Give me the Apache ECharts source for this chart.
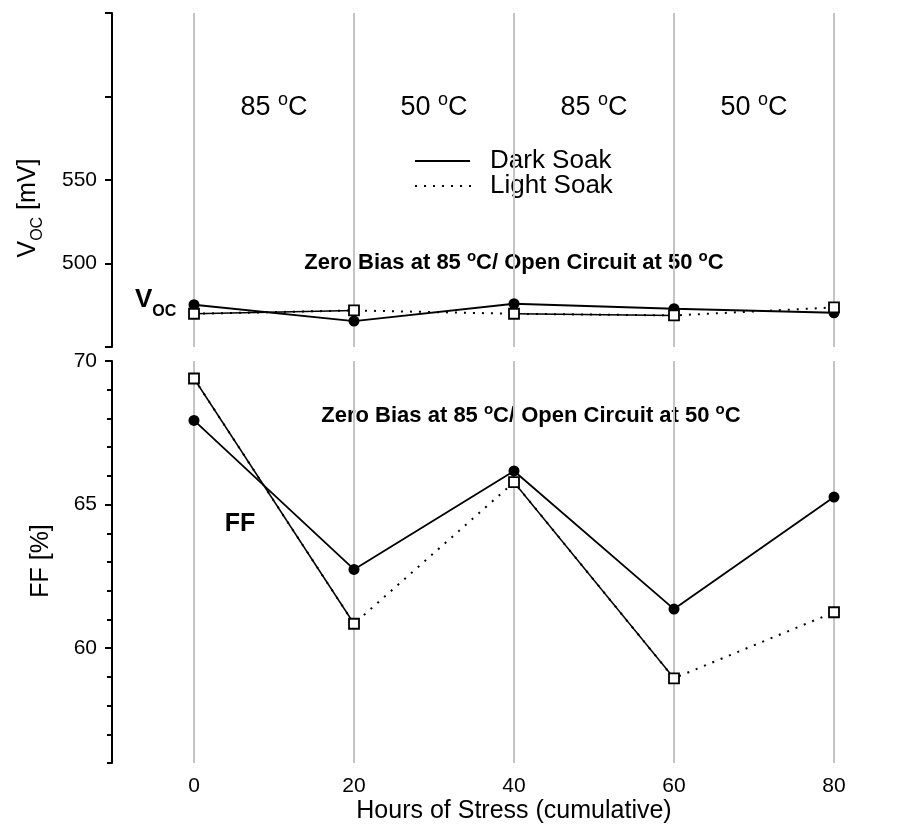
<!DOCTYPE html>
<html><head><meta charset="utf-8">
<script src="https://cdn.jsdelivr.net/npm/echarts@6/dist/echarts.min.js"></script>
<style>html,body{margin:0;padding:0;background:#fff}#c{width:906px;height:824px}</style>
</head><body><div id="c"></div>
<script>
// ---- data ----
const hours = [0, 20, 40, 60, 80];
const vocDark = [475.3, 465.5, 475.9, 472.9, 470.5];
const vocLight = [469.9, 471.9, 469.9, 468.9, 473.7];
const ffDark = [67.93, 62.74, 66.17, 61.36, 65.26];
const ffLight = [69.39, 60.85, 65.78, 58.95, 61.25];
const vocTickLabels = [500, 550];
const ffTickLabels = [60, 65, 70];
const phaseTemps = ['85', '50', '85', '50'];
const seriesNames = ['Dark Soak', 'Light Soak'];

const FONT = "'Liberation Sans', Arial, Helvetica, sans-serif";
const pts = (arr) => hours.map((h, i) => [h, arr[i]]);
const seg = (arr, a, b) => hours.slice(a, b + 1).map((h, i) => [h, arr[a + i]]);

const chart = echarts.init(document.getElementById('c'), null, {renderer: 'canvas'});

const xBase = (gi, showLabels) => ({
  type: 'value', gridIndex: gi, min: 0, max: 80, interval: 20,
  axisLine: {show: false, onZero: false}, axisTick: {show: false},
  axisLabel: {show: showLabels, fontFamily: FONT, fontSize: 21, color: '#000', margin: 13,
    showMinLabel: true, showMaxLabel: true},
  splitLine: {show: true, showMinLine: true, showMaxLine: true, lineStyle: {color: '#c4c4c4', width: 2}}
});

function darkSeries(xi, data) {
  return {type: 'line', name: seriesNames[0], xAxisIndex: xi, yAxisIndex: xi === 0 ? 0 : 1,
    data: data, symbol: 'circle', symbolSize: 11, clip: false, z: 3,
    itemStyle: {color: '#000'}, lineStyle: {color: '#000', width: 1.8}};
}
function lightSeries(xi, data) {
  return {type: 'line', name: seriesNames[1], xAxisIndex: xi, yAxisIndex: xi === 0 ? 0 : 1,
    data: data, symbol: 'rect', symbolSize: 10, clip: false, z: 5,
    itemStyle: {color: '#fff', borderColor: '#000', borderWidth: 1.8},
    lineStyle: {color: '#000', width: 2, type: [2, 7]}};
}
function solidSeg(xi, data) {
  return {type: 'line', xAxisIndex: xi, yAxisIndex: xi === 0 ? 0 : 1,
    data: data, symbol: 'none', clip: false, z: 4,
    lineStyle: {color: '#000', width: 1.5}};
}

const phaseX = [274, 434, 594, 754];
const graphics = [];
phaseTemps.forEach((t, i) => {
  graphics.push({type: 'text', x: phaseX[i], y: 108,
    style: {text: '{n|' + t + ' }{s|o}{n|C}', align: 'center', verticalAlign: 'middle',
      rich: {n: {fontFamily: FONT, fontSize: 27, lineHeight: 34, fill: '#000'},
             s: {fontFamily: FONT, fontSize: 18, lineHeight: 18, verticalAlign: 'top', fill: '#000'}}}});
});
const subRich = {b: {fontFamily: FONT, fontSize: 22, fontWeight: 'bold', lineHeight: 28, fill: '#000'},
                 s: {fontFamily: FONT, fontSize: 15, fontWeight: 'bold', lineHeight: 15, verticalAlign: 'top', fill: '#000'}};
const subText = '{b|Zero Bias at 85 }{s|o}{b|C/ Open Circuit at 50 }{s|o}{b|C}';
graphics.push({type: 'text', x: 514, y: 263, style: {text: subText, rich: subRich, align: 'center', verticalAlign: 'middle'}});
graphics.push({type: 'text', x: 531, y: 416, style: {text: subText, rich: subRich, align: 'center', verticalAlign: 'middle'}});
// legend
graphics.push({type: 'line', shape: {x1: 415, y1: 161, x2: 470, y2: 161}, style: {stroke: '#000', lineWidth: 2}});
graphics.push({type: 'line', shape: {x1: 415, y1: 186, x2: 472, y2: 186}, style: {stroke: '#000', lineWidth: 2, lineDash: [2, 7]}});
graphics.push({type: 'text', x: 490, y: 161, style: {text: seriesNames[0], fontFamily: FONT, fontSize: 26, fill: '#000', align: 'left', verticalAlign: 'middle'}});
graphics.push({type: 'text', x: 490, y: 186, style: {text: seriesNames[1], fontFamily: FONT, fontSize: 26, fill: '#000', align: 'left', verticalAlign: 'middle'}});
// panel labels
graphics.push({type: 'text', x: 135, y: 300, style: {text: '{v|V}{s|OC}', align: 'left', verticalAlign: 'middle',
  rich: {v: {fontFamily: FONT, fontSize: 26, fontWeight: 'bold', lineHeight: 40, fill: '#000'},
         s: {fontFamily: FONT, fontSize: 16, fontWeight: 'bold', lineHeight: 16, verticalAlign: 'bottom', fill: '#000'}}}});
graphics.push({type: 'text', x: 240, y: 524, style: {text: 'FF', fontFamily: FONT, fontSize: 25, fontWeight: 'bold', fill: '#000', align: 'center', verticalAlign: 'middle'}});
// axis names
graphics.push({type: 'text', x: 28, y: 208, rotation: Math.PI / 2, style: {text: '{a|V}{b|OC}{a| [mV]}', align: 'center', verticalAlign: 'middle',
  rich: {a: {fontFamily: FONT, fontSize: 25, lineHeight: 36, fill: '#000'},
         b: {fontFamily: FONT, fontSize: 16, lineHeight: 16, verticalAlign: 'bottom', fill: '#000'}}}});
graphics.push({type: 'text', x: 41, y: 561, rotation: Math.PI / 2, style: {text: 'FF [%]', fontFamily: FONT, fontSize: 25, fill: '#000', align: 'center', verticalAlign: 'middle'}});
graphics.push({type: 'text', x: 514, y: 811, style: {text: 'Hours of Stress (cumulative)', fontFamily: FONT, fontSize: 25, fill: '#000', align: 'center', verticalAlign: 'middle'}});

const option = {
  animation: false,
  backgroundColor: '#fff',
  grid: [
    {left: 194, right: 72, top: 13, height: 334},
    {left: 194, right: 72, top: 361, height: 402}
  ],
  xAxis: [xBase(0, false), xBase(1, true)],
  yAxis: [
    {type: 'value', gridIndex: 0, min: 450, max: 650, interval: 50, position: 'left', offset: 82,
      axisLine: {show: true, onZero: false, lineStyle: {color: '#000', width: 2}},
      axisTick: {show: true, length: 7, lineStyle: {color: '#000', width: 2}},
      axisLabel: {fontFamily: FONT, fontSize: 21, color: '#000', margin: 15,
        formatter: v => vocTickLabels.includes(v) ? String(v) : ''},
      splitLine: {show: false}},
    {type: 'value', gridIndex: 1, min: 56, max: 70, interval: 1, position: 'left', offset: 82,
      axisLine: {show: true, onZero: false, lineStyle: {color: '#000', width: 2}},
      axisTick: {show: true, length: 5, lineStyle: {color: '#000', width: 2}},
      axisLabel: {fontFamily: FONT, fontSize: 21, color: '#000', margin: 15,
        formatter: v => ffTickLabels.includes(v) ? String(v) : ''},
      splitLine: {show: false}},
    {type: 'value', gridIndex: 1, min: 56, max: 70, position: 'left', offset: 82,
      axisLine: {show: false, onZero: false},
      axisTick: {show: true, length: 7, customValues: ffTickLabels, lineStyle: {color: '#000', width: 2}},
      axisLabel: {show: false},
      splitLine: {show: false}}
  ],
  series: [
    darkSeries(0, pts(vocDark)),
    solidSeg(0, seg(vocLight, 0, 1)),
    solidSeg(0, seg(vocLight, 2, 3)),
    lightSeries(0, pts(vocLight)),
    darkSeries(1, pts(ffDark)),
    solidSeg(1, seg(ffLight, 0, 1)),
    solidSeg(1, seg(ffLight, 2, 3)),
    lightSeries(1, pts(ffLight))
  ],
  graphic: graphics
};
chart.setOption(option);
</script>
</body></html>
